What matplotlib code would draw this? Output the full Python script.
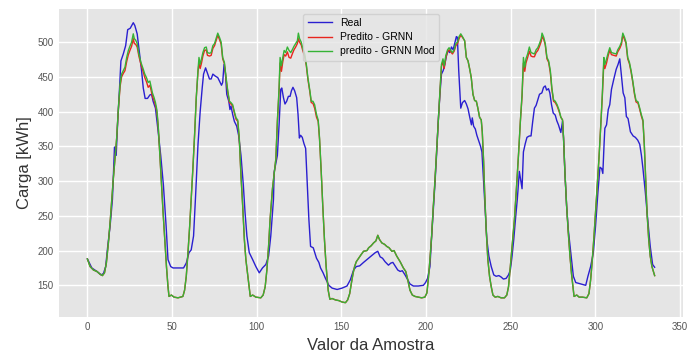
import matplotlib
matplotlib.use('Agg')
import matplotlib.pyplot as plt

# ---- Real (measured) load ----
x_real = [0, 2.6, 5.6, 8.1, 9.5, 10.8, 12, 13.4, 14.8, 16, 17, 17.9, 18.9, 19.8, 21.2, 22.6, 23.8, 25.3, 27.1, 28,
          29.4, 30.6, 32, 33, 34.1, 35.5, 36.9, 37.9, 38.8, 40.2, 41.8, 43.3, 44.9, 46.5, 47.6, 49.2, 50.6, 53.5,
          56.8, 58.4, 60, 61.3, 62.7, 63.9, 65.3, 66.6, 67.8, 68.6, 69.8, 71.1, 72.1, 73.1, 74.1, 75.6, 77, 78,
          79.2, 79.9, 80.7, 81.5, 82.3, 83.5, 84.2, 84.8, 85.8, 86.8, 88.2, 89.3, 90.7, 92.1, 93.1, 94.2, 95.6,
          97.6, 99.5, 101.5, 103.4, 105.4, 107, 108.3, 109.9, 110.3,
          112.2, 113.2, 114.2, 114.8, 115.8, 116.7, 117.7, 118.7, 119.7, 120.5, 121.4, 122.4, 123.6, 124.4, 125.2,
          125.9, 126.9, 127.9, 128.9, 129.9, 130.8, 131.8, 133.4, 134.3, 135.3, 136.7, 137.7, 139.2, 140.6, 142.6,
          144.5, 147.5, 150.4, 153.3, 155.3, 157.2, 158.8, 160.8, 163.1, 165.5,
          168, 170, 171.5, 172.9, 174.3, 175.8, 177.8, 179.2, 180.4, 181.7, 183.3, 184.7, 186, 187.6, 189.2, 190.5,
          192.5, 195.4, 198.4, 199.7, 200.9, 202.3, 203.2, 204.2, 205.2, 206.2, 207.2, 208.2, 209.1, 210.1, 211.1,
          212.1, 213, 214, 215, 216, 216.9, 217.9, 218.5, 219.3, 220.5, 221.5, 222.8,
          223.8, 224.8, 225.8, 226.8, 227.3, 228.1, 229.1, 230, 231.2, 232.2, 233, 234, 235, 235.9, 237.1, 238.5,
          240, 241.4, 243, 244.3, 245.7, 247.3, 248.7, 249.8, 250.8, 251.8, 252.8, 253.9, 255.1, 256.1, 256.7,
          257.5, 258.6, 259.6, 261, 262, 263, 264, 265, 266, 267, 268.4, 269.4, 270.4, 271.2, 272.3, 273.1, 274.1,
          275.1, 276.3, 277.2, 278.2,
          279.6, 280.6, 281.2, 282, 283, 284, 285.5, 287, 288.4, 291.3, 294.3, 295.6, 297.2, 298.8, 300.1, 301.5,
          302.7, 303.7, 304.4, 305.2, 305.6, 306.6, 307.6, 308.5, 309.5, 310.9, 312.3, 313.4, 314.4, 315.4, 316.4,
          317.4, 318.3, 319.3, 320.7, 322.3, 323.6, 325, 326.2, 327.2, 328.1, 329.5, 330.9, 332.4, 333.8, 335]
y_real = [188, 175, 170, 165, 167, 177, 206, 235, 274, 349, 337, 386, 430, 473, 483, 495, 518, 520, 528, 524,
          512, 488, 459, 434, 419, 419, 424, 425, 415, 405, 371, 337, 294, 235, 187, 177, 175, 175,
          175, 182, 197, 201, 221, 279, 352, 400, 434, 454, 463, 454, 447, 447, 454, 451, 449, 444,
          438, 442, 468, 456, 425, 415, 403, 408, 396, 386, 379, 366, 337, 294, 255, 221, 197,
          187, 177, 168, 175, 180, 192, 221, 274, 313,
          337, 381, 432, 434, 420, 411, 415, 422, 422, 430, 435, 430, 420, 396, 362,
          366, 363, 354, 347, 294, 245, 206, 204, 197, 189, 183, 175, 168, 160, 150,
          146, 144, 146, 149, 158, 172, 177, 178, 183, 188,
          193, 197, 199, 191, 189, 184, 179, 182, 183, 178, 172, 170, 171, 165, 158, 152,
          149, 149, 150, 154, 160, 177, 216, 255, 294, 337, 386, 425, 454, 459, 468,
          481, 488, 485, 493, 489, 498, 508, 507, 459, 405, 413, 416,
          411, 404, 392, 381, 391, 379, 375, 366, 357, 350, 342, 298, 255, 216, 192, 177,
          165, 163, 164, 162, 159, 160, 165, 172, 192, 216, 245, 274, 314, 298, 289,
          342, 354, 363, 365, 365, 386, 405, 409, 417, 425, 427, 435, 437, 431, 433, 427, 410,
          398, 395, 387, 381,
          370, 386, 362, 313, 265, 230, 197, 163, 154, 152, 150, 163, 177, 197, 235, 284,
          320, 318, 311, 357, 376, 381, 403, 410, 432, 447, 461, 468, 476, 451, 427,
          420, 393, 390, 371, 365, 363, 359, 353, 337, 318, 284, 245, 206, 180, 176]

# ---- Predictions (shared sample positions) ----
x_pred = [0, 1.6, 3.6, 5.6, 7.5, 8.9, 10.1, 11.2, 12.4, 13.4, 14.4, 15.3, 16.3, 17.3, 18.3, 19.3, 20.2, 21.2, 22.2,
          23.2, 24.2, 25.1, 26.1, 27.1, 27.7, 28.5, 29.4, 30.4, 31.6, 33, 33.9, 34.9, 35.9, 36.9, 37.5, 38.4, 39.4,
          40.2, 41, 41.8, 42.7, 43.7, 44.7, 45.7, 46.7, 47.6, 48.2, 49.6, 51.2, 53.5,
          56.4, 57.4, 58.4, 59.4, 60.4, 61.3, 62.3, 63.3, 64.3, 65.3, 65.9, 66.6, 67.4, 68.2, 69.2, 70.2, 70.9,
          72.1, 73.1, 74.1, 75.1, 76, 77, 78, 79, 79.9, 80.9, 81.9, 82.9, 83.9, 84.8, 85.8, 86.8, 87.8, 88.8, 89.7,
          90.7, 91.7, 92.7, 93.6, 94.6, 95.6, 96.2, 97.6, 99.5, 102.4, 103.8, 105, 106, 107, 107.9, 109.3,
          111.3, 112.2, 113.2, 113.8, 114.6, 115.4, 116.2, 117.1, 118.1, 119.1, 120.1, 121, 122, 123, 124, 124.6,
          125.3, 126.3, 127.3, 128.3, 129.3, 130.2, 131.4, 132.2, 133.2, 134.2, 135.3, 136.3, 137.1, 138.1, 139,
          140, 141, 142.2, 143.2, 144.5, 146.5, 148.5, 150.4, 152.4, 153.7, 154.9, 155.9, 156.9, 157.8, 158.8,
          160.2, 161.6, 163.1, 165.1,
          166.1, 167.6, 169, 170.4, 171.5, 172.5, 173.9, 175.5, 176.8, 178.2, 179.8, 181.1, 182.7, 184.7, 186.6,
          188, 189.2, 190.5, 191.9, 193.5, 195.4, 197.4, 199.3, 200.5, 201.3, 202.3, 203.3, 204.2, 205.2, 206.2,
          207.2, 208.2, 209.1, 210, 210.7, 211.7, 212.7, 213.6, 214.6, 215.6, 216.6, 217.6, 218.6, 219.5, 220.5,
          221.5, 222.8,
          223.8, 224.8, 225.8, 226.7, 227.7, 228.7, 229.7, 230.6, 231.6, 232.6, 233.2, 234, 234.6, 235.5, 236.5,
          237.5, 238.5, 239.5, 240.8, 242.4, 244.3, 246.3, 247.7, 248.7, 249.6, 250.8, 252.2, 253.5, 254.7, 255.7,
          256.7, 257.5, 258.3, 259, 260, 261, 262, 263, 264, 265, 266, 267, 268, 268.5, 269.5, 270.4, 271.4, 272.4,
          273.4, 274.3, 275.3, 276.3, 277.4, 278.6,
          279.6, 280.6, 281.2, 282, 283, 284, 285, 285.9, 286.8, 287.4, 289, 290.4, 292.3, 294.9, 296.2, 297.2,
          298.2, 299.2, 300.1, 301.1, 302.1, 303.1, 304.1, 305, 305.6, 306.6, 307.6, 308.5, 309.5, 310.9, 312.3,
          313.2, 314.4, 315.4, 316.2, 317.2, 318.1, 319.1, 320.1, 321.1, 322.1, 323.1, 324, 325.2, 326.2, 327.1,
          328.1, 328.9, 329.7, 330.5, 331.5, 332.4, 333.4, 335]

y_grnn_mod = [188, 177, 172, 170, 166, 164, 168, 182, 211, 240, 274, 303, 332, 362, 405, 439, 454, 459, 464,
              478, 488, 494, 500, 512, 505, 503, 498, 483, 471, 461, 454, 449, 442, 444, 437, 427, 420,
              413, 403, 381, 342, 298, 255, 216, 177, 148, 134, 136, 133, 132,
              134, 143, 163, 197, 235, 274, 318, 366, 420, 459, 478, 468, 476, 485, 492, 493, 485,
              484, 485, 495, 498, 505, 513, 507, 500, 478, 471, 449, 430, 415, 413, 410, 400, 391, 388, 362,
              308, 265, 216, 187, 167, 148, 134, 136, 133, 132, 136, 148, 172, 206, 245, 289,
              332, 386, 434, 478, 466, 478, 488, 485, 493, 488, 485, 489, 494, 498, 502, 513,
              505, 500, 490, 483, 468, 449, 430, 415, 415, 410, 396, 388, 362, 313, 265,
              216, 177, 143, 130, 131, 129, 128, 126, 125, 129, 138, 153, 167, 177, 184,
              189, 194, 199, 200,
              204, 207, 211, 214, 222, 216, 211, 209, 206, 204, 199, 200, 192, 184, 175,
              170, 158, 143, 136, 134, 133, 132, 133, 139, 158, 187, 221, 260, 298, 342,
              386, 430, 468, 476, 466, 481, 489, 492, 488, 485, 489, 498, 500, 508, 512,
              508, 502,
              478, 473, 461, 449, 425, 416, 415, 405, 392, 388, 371, 328, 284, 231, 187,
              163, 148, 136, 133, 134, 132, 132, 136, 148, 172, 206, 245, 294, 342, 386,
              425, 478, 464, 476, 483, 493, 485, 484, 483, 489, 492, 498, 505, 513, 507, 498, 478, 473,
              459, 434, 417, 415, 410, 402,
              392, 388, 362, 313, 265, 226, 192, 167, 148, 134, 136, 133, 133, 132, 138, 158,
              187, 221, 255, 294, 332, 376, 425, 478, 468, 476, 485, 492, 485, 484, 483,
              489, 494, 500, 513, 507, 500, 478, 471, 459, 444, 427, 416, 414, 405, 396,
              388, 352, 303, 255, 216, 192, 177, 164]

y_grnn = [188, 177, 172, 170, 166, 164, 168, 182, 211, 240, 274, 303, 332, 362, 403, 436, 450, 455, 459,
          472, 482, 488, 494, 505, 498, 497, 493, 480, 468, 457, 449, 443, 435, 438, 432, 422, 416,
          409, 400, 379, 342, 298, 255, 216, 177, 148, 134, 136, 133, 132,
          134, 143, 163, 197, 235, 274, 318, 366, 420, 457, 470, 462, 470, 480, 488, 489, 481,
          480, 481, 491, 495, 502, 510, 504, 497, 476, 469, 447, 428, 413, 411, 408, 398, 389, 386, 360,
          308, 265, 216, 187, 167, 148, 134, 136, 133, 132, 136, 148, 172, 206, 245, 289,
          332, 386, 430, 470, 458, 472, 482, 480, 486, 478, 477, 483, 489, 493, 498, 505,
          500, 496, 487, 480, 466, 447, 428, 413, 412, 405, 392, 386, 360, 313, 265,
          216, 177, 143, 130, 131, 129, 128, 126, 125, 129, 138, 153, 167, 177, 184,
          189, 194, 199, 200,
          204, 207, 211, 214, 222, 216, 211, 209, 206, 204, 199, 200, 192, 184, 175,
          170, 158, 143, 136, 134, 133, 132, 133, 139, 158, 187, 221, 260, 298, 342,
          386, 428, 465, 472, 462, 478, 486, 489, 486, 483, 487, 495, 498, 505, 510,
          507, 502,
          478, 473, 461, 449, 425, 416, 415, 405, 392, 388, 371, 328, 284, 231, 187,
          163, 148, 136, 133, 134, 132, 132, 136, 148, 172, 206, 245, 294, 342, 386,
          422, 470, 458, 470, 478, 487, 480, 479, 479, 485, 488, 494, 501, 508, 504, 496, 476, 471,
          456, 432, 415, 413, 408, 400,
          392, 388, 362, 313, 265, 226, 192, 167, 148, 134, 136, 133, 133, 132, 138, 158,
          187, 221, 255, 294, 332, 376, 422, 470, 462, 470, 481, 488, 482, 481, 480,
          486, 491, 497, 510, 504, 498, 476, 469, 457, 442, 425, 414, 412, 403, 394,
          386, 352, 303, 255, 216, 192, 177, 164]

labels = ['Real', 'Predito - GRNN', 'predito - GRNN Mod']
colors = ['#2a1fd0', '#e8261e', '#36b336']

plt.rcParams['font.family'] = ['Liberation Sans', 'DejaVu Sans']

fig = plt.figure(figsize=(6.92, 3.54), dpi=100)
ax = fig.add_axes([0.0853, 0.1054, 0.9017, 0.870])
ax.set_facecolor('#E5E5E5')
ax.grid(True, color='white', linewidth=1.0)
ax.set_axisbelow(True)
for sp in ax.spines.values():
    sp.set_visible(False)
ax.tick_params(length=0, labelsize=7, colors='#555555', pad=4)

ax.plot(x_real, y_real, color=colors[0], lw=1.0, label=labels[0])
ax.plot(x_pred, y_grnn, color=colors[1], lw=1.0, label=labels[1])
ax.plot(x_pred, y_grnn_mod, color=colors[2], lw=1.0, label=labels[2])

ax.set_xlabel('Valor da Amostra', fontsize=12, color='#333333')
ax.set_ylabel('Carga [kWh]', fontsize=12, color='#333333')
ax.legend(loc='upper center', fontsize=7.5, frameon=True, facecolor='#E5E5E5',
          edgecolor='#CCCCCC', framealpha=0.8, labelspacing=0.4, handlelength=2.3)

fig.savefig('out.png', dpi=100)
